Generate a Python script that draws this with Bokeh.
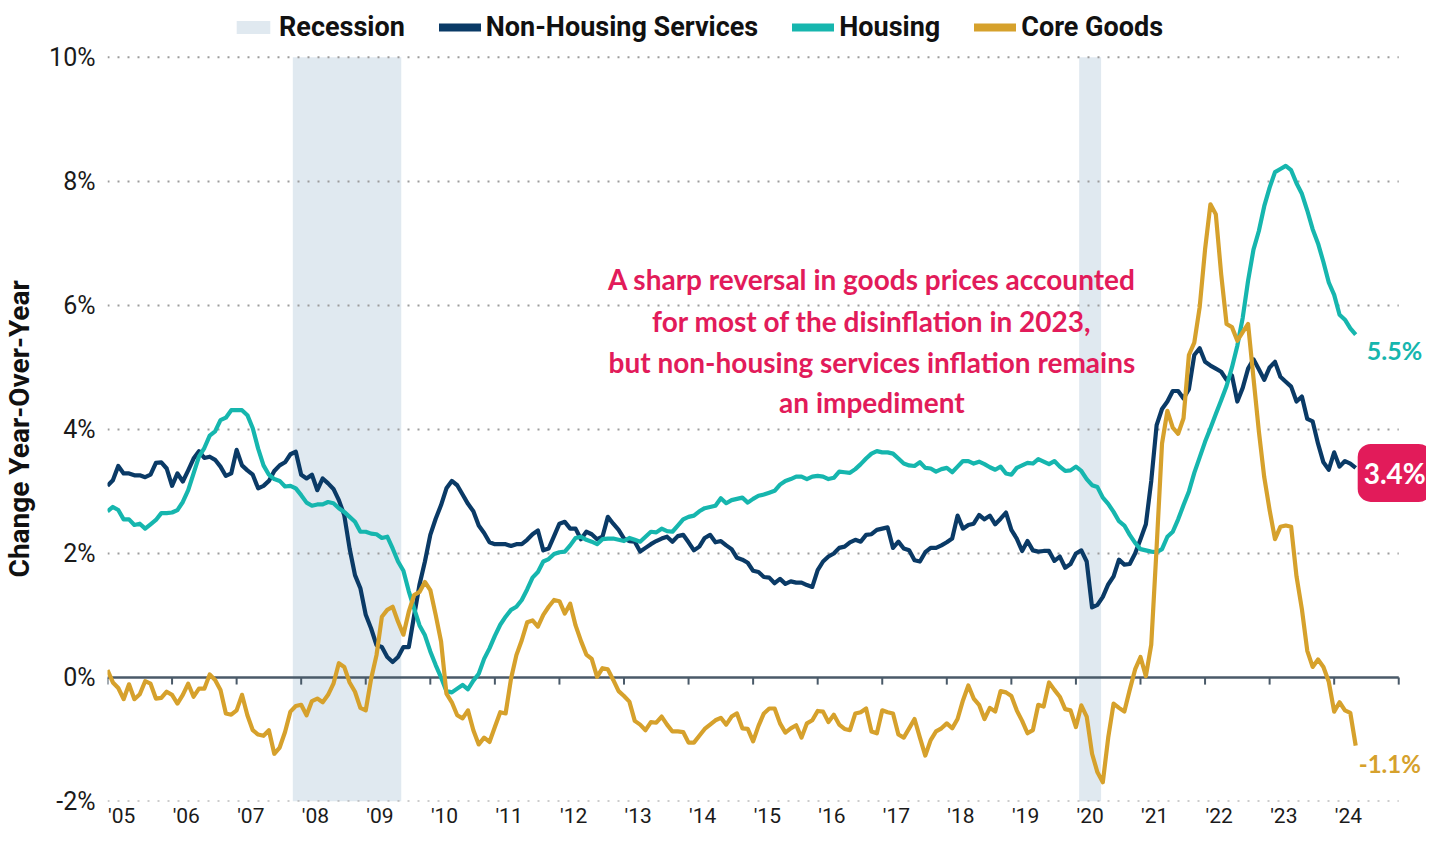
import pandas as pd
from bokeh.plotting import figure
from bokeh.models import ColumnDataSource, FixedTicker, Legend, LegendItem, Label
from bokeh.embed import file_html
from bokeh.resources import INLINE

# ---------------- data ----------------
start_month = "2005-01"

non_housing_services = [
    3.09, 3.18, 3.41, 3.29, 3.29, 3.26, 3.26, 3.23, 3.27, 3.46, 3.47, 3.37,
    3.09, 3.29, 3.16, 3.34, 3.53, 3.65, 3.54, 3.56, 3.51, 3.40, 3.25, 3.29,
    3.67, 3.42, 3.34, 3.27, 3.05, 3.09, 3.17, 3.33, 3.42, 3.47, 3.60, 3.64,
    3.27, 3.21, 3.27, 3.02, 3.21, 3.13, 3.04, 2.86, 2.62, 2.08, 1.65, 1.44,
    1.01, 0.79, 0.52, 0.49, 0.33, 0.25, 0.33, 0.49, 0.49, 1.00, 1.50, 1.87,
    2.30, 2.56, 2.78, 3.05, 3.17, 3.10, 2.95, 2.80, 2.68, 2.45, 2.33, 2.18,
    2.15, 2.15, 2.15, 2.12, 2.15, 2.15, 2.22, 2.31, 2.37, 2.05, 2.08, 2.28,
    2.48, 2.51, 2.40, 2.40, 2.23, 2.35, 2.31, 2.23, 2.27, 2.59, 2.48, 2.38,
    2.24, 2.20, 2.19, 2.03, 2.09, 2.15, 2.20, 2.24, 2.27, 2.19, 2.28, 2.30,
    2.18, 2.05, 2.11, 2.25, 2.30, 2.18, 2.20, 2.13, 2.07, 1.93, 1.90, 1.85,
    1.72, 1.70, 1.62, 1.61, 1.52, 1.59, 1.51, 1.55, 1.53, 1.53, 1.49, 1.46,
    1.73, 1.87, 1.95, 2.00, 2.09, 2.11, 2.18, 2.22, 2.19, 2.30, 2.31, 2.38,
    2.40, 2.42, 2.09, 2.19, 2.08, 2.05, 1.89, 1.87, 2.02, 2.09, 2.09, 2.13,
    2.18, 2.24, 2.61, 2.40, 2.46, 2.48, 2.62, 2.55, 2.61, 2.47, 2.56, 2.66,
    2.38, 2.24, 2.04, 2.20, 2.05, 2.03, 2.04, 2.04, 1.88, 1.95, 1.77, 1.83,
    2.00, 2.05, 1.87, 1.13, 1.17, 1.30, 1.50, 1.63, 1.90, 1.82, 1.83, 2.00,
    2.23, 2.47, 3.17, 4.07, 4.33, 4.45, 4.62, 4.62, 4.50, 4.65, 5.20, 5.31,
    5.09, 5.03, 4.98, 4.93, 4.80, 4.87, 4.45, 4.67, 4.98, 5.13, 4.97, 4.80,
    5.00, 5.09, 4.85, 4.77, 4.69, 4.45, 4.53, 4.17, 4.13, 3.77, 3.47, 3.35,
    3.63, 3.40, 3.49, 3.45, 3.38,
]

housing = [
    2.68, 2.75, 2.70, 2.55, 2.55, 2.46, 2.48, 2.40, 2.47, 2.54, 2.65, 2.65,
    2.66, 2.70, 2.83, 3.02, 3.29, 3.56, 3.70, 3.90, 3.97, 4.15, 4.19, 4.31,
    4.31, 4.31, 4.23, 4.02, 3.69, 3.42, 3.27, 3.20, 3.17, 3.08, 3.09, 3.05,
    2.94, 2.82, 2.77, 2.79, 2.79, 2.83, 2.81, 2.73, 2.67, 2.59, 2.51, 2.35,
    2.35, 2.32, 2.31, 2.25, 2.27, 2.08, 1.87, 1.72, 1.39, 1.11, 0.84, 0.68,
    0.42, 0.20, 0.00, -0.22, -0.24, -0.18, -0.12, -0.19, -0.05, 0.06, 0.30, 0.47,
    0.67, 0.85, 0.98, 1.09, 1.14, 1.25, 1.42, 1.61, 1.70, 1.87, 1.91, 1.99,
    2.02, 2.03, 2.13, 2.25, 2.27, 2.22, 2.19, 2.15, 2.23, 2.24, 2.24, 2.22,
    2.20, 2.25, 2.22, 2.19, 2.27, 2.35, 2.34, 2.40, 2.36, 2.35, 2.45, 2.55,
    2.59, 2.61, 2.68, 2.73, 2.75, 2.77, 2.89, 2.81, 2.86, 2.88, 2.90, 2.82,
    2.88, 2.93, 2.95, 2.98, 3.01, 3.11, 3.17, 3.20, 3.24, 3.24, 3.20, 3.24,
    3.25, 3.24, 3.20, 3.22, 3.32, 3.31, 3.30, 3.36, 3.44, 3.53, 3.61, 3.65,
    3.63, 3.63, 3.61, 3.53, 3.45, 3.42, 3.41, 3.47, 3.38, 3.37, 3.32, 3.36,
    3.38, 3.31, 3.40, 3.49, 3.49, 3.45, 3.48, 3.44, 3.39, 3.35, 3.40, 3.29,
    3.27, 3.38, 3.42, 3.46, 3.45, 3.52, 3.48, 3.44, 3.49, 3.40, 3.33, 3.34,
    3.40, 3.33, 3.20, 3.10, 3.07, 2.90, 2.80, 2.67, 2.52, 2.45, 2.30, 2.17,
    2.07, 2.05, 2.03, 2.02, 2.07, 2.27, 2.35, 2.55, 2.78, 3.00, 3.30, 3.55,
    3.80, 4.02, 4.25, 4.47, 4.70, 5.00, 5.35, 5.80, 6.40, 6.90, 7.20, 7.60,
    7.90, 8.15, 8.20, 8.25, 8.18, 7.97, 7.80, 7.53, 7.23, 7.00, 6.70, 6.37,
    6.17, 5.85, 5.77, 5.63, 5.53,
]

core_goods = [
    0.12, -0.08, -0.17, -0.35, -0.11, -0.35, -0.27, -0.06, -0.10, -0.34, -0.33, -0.23,
    -0.28, -0.42, -0.28, -0.10, -0.31, -0.18, -0.18, 0.05, -0.04, -0.20, -0.58, -0.60,
    -0.53, -0.28, -0.61, -0.85, -0.92, -0.94, -0.85, -1.23, -1.13, -0.88, -0.55, -0.46,
    -0.44, -0.61, -0.38, -0.34, -0.40, -0.28, -0.10, 0.23, 0.17, -0.08, -0.23, -0.49,
    -0.53, -0.02, 0.36, 0.98, 1.09, 1.14, 0.90, 0.69, 1.06, 1.33, 1.38, 1.54,
    1.41, 1.01, 0.58, -0.26, -0.40, -0.61, -0.66, -0.53, -0.85, -1.08, -0.97, -1.04,
    -0.80, -0.56, -0.58, -0.02, 0.36, 0.60, 0.89, 0.92, 0.82, 1.01, 1.14, 1.25,
    1.23, 1.03, 1.19, 0.84, 0.59, 0.37, 0.30, 0.01, 0.15, 0.13, -0.04, -0.22,
    -0.30, -0.39, -0.70, -0.76, -0.85, -0.72, -0.73, -0.63, -0.76, -0.87, -0.87, -0.88,
    -1.05, -1.05, -0.94, -0.83, -0.76, -0.69, -0.65, -0.76, -0.63, -0.58, -0.82, -0.83,
    -1.03, -0.78, -0.58, -0.50, -0.50, -0.74, -0.89, -0.82, -0.77, -0.97, -0.74, -0.69,
    -0.54, -0.55, -0.72, -0.60, -0.76, -0.83, -0.85, -0.58, -0.56, -0.50, -0.87, -0.90,
    -0.53, -0.56, -0.58, -0.92, -0.97, -0.82, -0.67, -0.97, -1.26, -1.01, -0.87, -0.82,
    -0.74, -0.82, -0.67, -0.37, -0.13, -0.34, -0.44, -0.67, -0.49, -0.55, -0.22, -0.24,
    -0.30, -0.53, -0.70, -0.90, -0.85, -0.44, -0.47, -0.08, -0.20, -0.31, -0.51, -0.53,
    -0.80, -0.45, -0.63, -1.23, -1.53, -1.69, -0.97, -0.42, -0.49, -0.55, -0.20, 0.13,
    0.33, 0.02, 0.53, 2.10, 3.77, 4.30, 4.03, 3.93, 4.18, 5.20, 5.40, 5.97,
    6.90, 7.63, 7.47, 6.50, 5.70, 5.65, 5.43, 5.57, 5.70, 4.83, 3.97, 3.23,
    2.70, 2.23, 2.43, 2.45, 2.43, 1.63, 1.10, 0.43, 0.17, 0.29, 0.17, -0.07,
    -0.55, -0.40, -0.53, -0.57, -1.10,
]

recession_start = [2007.87, 2020.05]
recession_end = [2009.55, 2020.39]

year_ticks = list(range(2005, 2026))
x_tick_labels = ["'05", "'06", "'07", "'08", "'09", "'10", "'11", "'12", "'13", "'14",
                 "'15", "'16", "'17", "'18", "'19", "'20", "'21", "'22", "'23", "'24"]
y_ticks = [-2, 0, 2, 4, 6, 8, 10]
y_tick_labels = ["-2%", "0%", "2%", "4%", "6%", "8%", "10%"]
grid_levels = [-2, 2, 4, 6, 8, 10]

series_names = ["Non-Housing Services", "Housing", "Core Goods"]
end_labels = ["3.4%", "5.5%", "-1.1%"]
annotation_lines = [
    "A sharp reversal in goods prices accounted",
    "for most of the disinflation in 2023,",
    "but non-housing services inflation remains",
    "an impediment",
]

# ---------------- styling ----------------
NAVY = "#0a3a66"
TEAL = "#16b6ae"
GOLD = "#d6a12c"
SHADE = "#e0e9f0"
PINK = "#e21b5a"
AXIS = "#4a5a69"

n = len(core_goods)
dates = pd.date_range(start_month, periods=n, freq="MS")
t = list(dates.year + (dates.month - 1) / 12.0)
x0, x1 = year_ticks[0], year_ticks[-1]

src = ColumnDataSource(dict(t=t, nhs=non_housing_services, housing=housing, goods=core_goods))
rec_src = ColumnDataSource(dict(left=recession_start, right=recession_end,
                                bottom=[y_ticks[0]] * len(recession_start),
                                top=[y_ticks[-1]] * len(recession_start)))

# The frame reaches past 2025 on the right and above 10% at the top so the
# end labels and the legend (drawn inside the frame) stay visible.
p = figure(width=1426, height=830, output_backend="svg", toolbar_location=None,
           x_range=(x0, x1 + 0.43), y_range=(y_ticks[0], y_ticks[-1] + 0.917),
           min_border_left=104, min_border_right=0, min_border_top=0, min_border_bottom=27)
p.outline_line_color = None
p.background_fill_color = "white"
p.border_fill_color = "white"
p.xgrid.visible = False
p.ygrid.visible = False

rec = p.quad(left="left", right="right", bottom="bottom", top="top", source=rec_src,
             fill_color=SHADE, line_color=None, level="image")

# dotted horizontal gridlines spanning 2005-2025
p.segment(x0=[x0] * len(grid_levels), y0=grid_levels, x1=[x1] * len(grid_levels), y1=grid_levels,
          line_color="#9c9c9c", line_width=2, line_dash="2 8", level="underlay")

# zero line with downward ticks
p.segment(x0=[x0], y0=[0], x1=[x1], y1=[0], line_color=AXIS, line_width=2.5)
p.segment(x0=year_ticks, y0=[0] * len(year_ticks), x1=year_ticks,
          y1=[-0.115] * len(year_ticks), line_color=AXIS, line_width=2)

r_nhs = p.line("t", "nhs", source=src, line_color=NAVY, line_width=4.2, line_join="round")
r_hou = p.line("t", "housing", source=src, line_color=TEAL, line_width=4.2, line_join="round")
r_gds = p.line("t", "goods", source=src, line_color=GOLD, line_width=4.2, line_join="round")

# single-point legend proxies (draw nothing in the plot) with thicker strokes
lg_nhs = p.line(x=t[:1], y=non_housing_services[:1], line_color=NAVY, line_width=8, line_cap="round")
lg_hou = p.line(x=t[:1], y=housing[:1], line_color=TEAL, line_width=8, line_cap="round")
lg_gds = p.line(x=t[:1], y=core_goods[:1], line_color=GOLD, line_width=8, line_cap="round")

legend = Legend(items=[
    LegendItem(label="Recession", renderers=[rec]),
    LegendItem(label=series_names[0], renderers=[lg_nhs]),
    LegendItem(label=series_names[1], renderers=[lg_hou]),
    LegendItem(label=series_names[2], renderers=[lg_gds]),
], orientation="horizontal", location=(125, 758), padding=0, margin=0, spacing=34,
    glyph_width=42, glyph_height=16, label_height=32, label_standoff=5,
    label_text_font="Roboto", label_text_font_style="bold", label_text_font_size="27px",
    label_text_color="#111111", background_fill_alpha=0, border_line_alpha=0)
p.add_layout(legend, "center")

# y axis
p.yaxis.ticker = FixedTicker(ticks=y_ticks)
p.yaxis.major_label_overrides = {v: s for v, s in zip(y_ticks, y_tick_labels)}
p.yaxis.axis_line_color = None
p.yaxis.major_tick_line_color = None
p.yaxis.minor_tick_line_color = None
p.yaxis.major_tick_out = 0
p.yaxis.major_tick_in = 0
p.yaxis.minor_tick_out = 0
p.yaxis.major_label_standoff = 12
p.yaxis.major_label_text_font = "Roboto"
p.yaxis.major_label_text_font_size = "25px"
p.yaxis.major_label_text_color = "#1a1a1a"
# trailing no-break spaces keep the title centred on the -2%..10% span
p.yaxis.axis_label = "Change Year-Over-Year" + "\u00a0" * 8
p.yaxis.axis_label_text_font = "Roboto"
p.yaxis.axis_label_text_font_style = "bold"
p.yaxis.axis_label_text_font_size = "28px"
p.yaxis.axis_label_text_color = "#111111"
p.yaxis.axis_label_standoff = 10

# x axis (labels sit just right of each year tick)
label_pos = [y + 0.22 for y in year_ticks[:-1]]
p.xaxis.ticker = FixedTicker(ticks=label_pos)
p.xaxis.major_label_overrides = {v: s for v, s in zip(label_pos, x_tick_labels)}
p.xaxis.axis_line_color = None
p.xaxis.major_tick_line_color = None
p.xaxis.minor_tick_line_color = None
p.xaxis.major_tick_out = 0
p.xaxis.major_tick_in = 0
p.xaxis.minor_tick_out = 0
p.xaxis.major_label_standoff = 2
p.xaxis.major_label_text_font = "Roboto"
p.xaxis.major_label_text_font_size = "21px"
p.xaxis.major_label_text_color = "#1a1a1a"

# annotation text
ann_y = [6.43, 5.755, 5.095, 4.435]
for line, yy in zip(annotation_lines, ann_y):
    p.add_layout(Label(x=2016.84, y=yy, text=line, text_align="center", text_baseline="middle",
                       text_font="Lato", text_font_style="bold", text_font_size="28px",
                       text_color=PINK))

# end labels
p.add_layout(Label(x=t[-1], y=housing[-1], text=end_labels[1], x_offset=11, y_offset=-15,
                   text_align="left", text_baseline="middle", text_font="Lato",
                   text_font_style="bold", text_font_size="25px", text_color=TEAL))
p.add_layout(Label(x=t[-1], y=core_goods[-1], text=end_labels[2], x_offset=3, y_offset=-18,
                   text_align="left", text_baseline="middle", text_font="Lato",
                   text_font_style="bold", text_font_size="24px", text_color=GOLD))
p.add_layout(Label(x=t[-1], y=non_housing_services[-1], text=end_labels[0], x_offset=2,
                   y_offset=-5, text_align="left", text_baseline="middle", text_font="Lato",
                   text_font_style="bold", text_font_size="28px", text_color="white",
                   background_fill_color=PINK, border_radius=13, padding=(6, 12)))

open("out.html", "w").write(file_html(p, INLINE))
